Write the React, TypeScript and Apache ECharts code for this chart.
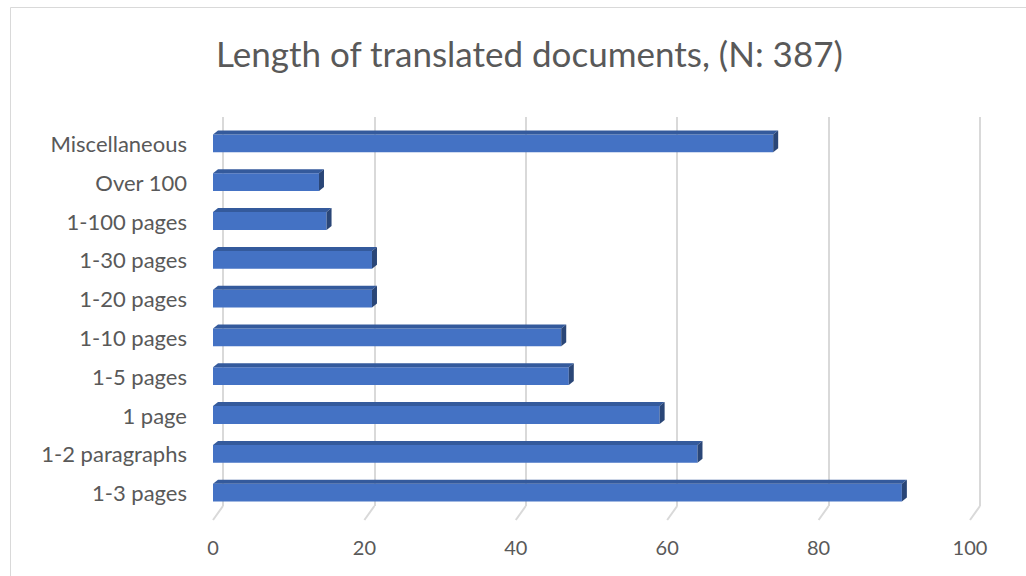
import React, { useEffect, useRef } from "react";
import * as echarts from "echarts";

const categories = [
  "1-3 pages",
  "1-2 paragraphs",
  "1 page",
  "1-5 pages",
  "1-10 pages",
  "1-20 pages",
  "1-30 pages",
  "1-100 pages",
  "Over 100",
  "Miscellaneous",
];
const values = [91, 64, 59, 47, 46, 21, 21, 15, 14, 74];
const xTicks = [0, 20, 40, 60, 80, 100];
const titleText = "Length of translated documents, (N: 387)";

const FONT = "Lato, 'Liberation Sans', Arial, sans-serif";
const TEXT = "#595959";

export default function App() {
  const ref = useRef<HTMLDivElement>(null);
  useEffect(() => {
    if (!ref.current) return;
    const chart = echarts.init(ref.current, undefined, { renderer: "svg" });
    const dx = 5;
    const dy = 4;
    chart.setOption({
      animation: false,
      backgroundColor: "#ffffff",
      title: {
        text: titleText,
        left: 211,
        top: 30,
        textStyle: { fontFamily: FONT, fontSize: 35, fontWeight: "normal", color: TEXT },
      },
      graphic: [
        {
          type: "rect",
          shape: { x: 10.5, y: 7.5, width: 1040, height: 600 },
          style: { fill: "none", stroke: "#d9d9d9", lineWidth: 1 },
          silent: true,
          z: -10,
        },
      ],
      grid: [
        { left: 213, right: 56, top: 124, bottom: 64 },
        { left: 223, right: 46, top: 117, bottom: 70 },
      ],
      xAxis: [
        {
          gridIndex: 0,
          type: "value",
          min: 0,
          max: 100,
          interval: 20,
          axisLine: { show: false },
          axisTick: { show: false },
          splitLine: { show: false },
          axisLabel: { color: TEXT, fontSize: 20, fontFamily: FONT, margin: 25 },
        },
        {
          gridIndex: 1,
          type: "value",
          min: 0,
          max: 100,
          interval: 20,
          axisLine: { show: false },
          axisTick: { show: false },
          axisLabel: { show: false },
          splitLine: { show: true, lineStyle: { color: "#d9d9d9", width: 2 } },
        },
      ],
      yAxis: [
        {
          gridIndex: 0,
          type: "category",
          data: categories,
          axisLine: { show: false },
          axisTick: { show: false },
          axisLabel: { color: TEXT, fontSize: 22, fontFamily: FONT, margin: 26 },
        },
        {
          gridIndex: 1,
          type: "category",
          data: categories,
          show: false,
        },
      ],
      series: [
        {
          type: "custom",
          xAxisIndex: 0,
          yAxisIndex: 0,
          data: xTicks.map((t) => [t]),
          z: 1,
          silent: true,
          renderItem: (params: any, api: any) => {
            const cs = params.coordSys;
            const x = api.coord([api.value(0), 0])[0];
            const bottom = cs.y + cs.height;
            return {
              type: "line",
              shape: { x1: x, y1: bottom + 8, x2: x + 10, y2: bottom - 6 },
              style: { stroke: "#d9d9d9", lineWidth: 2 },
            };
          },
        },
        {
          type: "custom",
          xAxisIndex: 0,
          yAxisIndex: 0,
          z: 5,
          data: values.map((v, i) => [v, i]),
          renderItem: (params: any, api: any) => {
            const v = api.value(0);
            const c = api.value(1);
            const start = api.coord([0, c]);
            const end = api.coord([v, c]);
            const band = api.size([0, 1])[1];
            const h = band * 0.46;
            const x0 = start[0];
            const x1 = end[0];
            const yt = start[1] - h / 2;
            const yb = start[1] + h / 2;
            return {
              type: "group",
              children: [
                {
                  type: "rect",
                  shape: { x: x0, y: yt, width: x1 - x0, height: h },
                  style: { fill: "#4472C4" },
                },
                {
                  type: "polygon",
                  shape: {
                    points: [
                      [x0, yt],
                      [x0 + dx, yt - dy],
                      [x1 + dx, yt - dy],
                      [x1, yt],
                    ],
                  },
                  style: { fill: "#345a9c" },
                },
                {
                  type: "polygon",
                  shape: {
                    points: [
                      [x1, yt],
                      [x1 + dx, yt - dy],
                      [x1 + dx, yb - dy],
                      [x1, yb],
                    ],
                  },
                  style: { fill: "#2a4677" },
                },
              ],
            };
          },
        },
      ],
    });
    return () => chart.dispose();
  }, []);
  return (
    <div
      ref={ref}
      style={{ position: "fixed", left: 0, top: 0, width: 1026, height: 576 }}
    />
  );
}
